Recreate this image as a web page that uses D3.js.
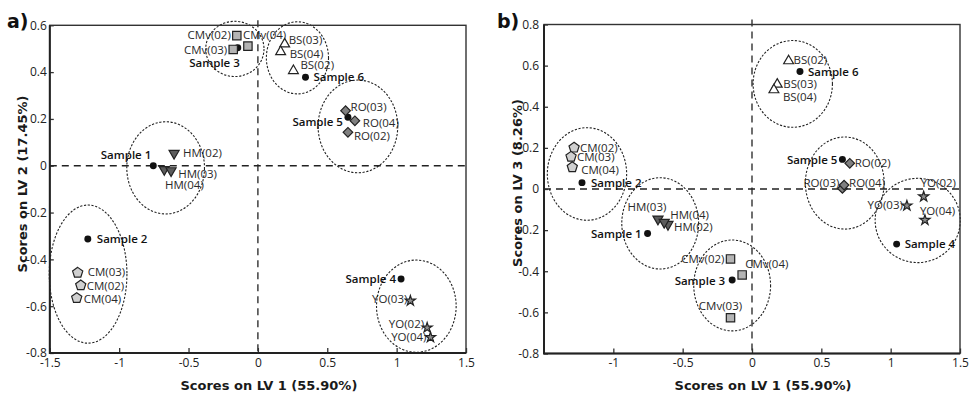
<!DOCTYPE html>
<html>
<head>
<meta charset="utf-8">
<script src="https://cdn.jsdelivr.net/npm/d3@7"></script>
<style>
  body { margin: 0; background: #fff; }
  svg { display: block; }
</style>
</head>
<body>
<svg id="chart" width="970" height="395"></svg>
<script>
// ---- data -------------------------------------------------------------
// Samples and their yearly replicates (02, 03, 04)
const names = [
  "Sample 1", "HM(02)", "HM(03)", "HM(04)",
  "Sample 2", "CM(02)", "CM(03)", "CM(04)",
  "Sample 3", "CMv(02)", "CMv(03)", "CMv(04)",
  "Sample 4", "YO(02)", "YO(03)", "YO(04)",
  "Sample 5", "RO(02)", "RO(03)", "RO(04)",
  "Sample 6", "BS(02)", "BS(03)", "BS(04)"
];
const kinds = [
  "sample", "hm", "hm", "hm",
  "sample", "cm", "cm", "cm",
  "sample", "cmv", "cmv", "cmv",
  "sample", "yo", "yo", "yo",
  "sample", "ro", "ro", "ro",
  "sample", "bs", "bs", "bs"
];

// Panel a: scores on LV 1 vs LV 2
const lv1A = [
  -0.754, -0.604, -0.675, -0.626,
  -1.226, -1.277, -1.299, -1.306,
  -0.145, -0.152, -0.178, -0.072,
   1.032,  1.220,  1.099,  1.244,
   0.649,  0.649,  0.632,  0.699,
   0.343,  0.256,  0.193,  0.164
];
const lv2A = [
   0.000,  0.053, -0.016, -0.021,
  -0.313, -0.511, -0.457, -0.565,
   0.504,  0.556,  0.497,  0.511,
  -0.484, -0.692, -0.577, -0.733,
   0.207,  0.143,  0.235,  0.192,
   0.378,  0.406,  0.520,  0.487
];

// Panel b: scores on LV 1 vs LV 3
const lv1B = [
  -0.753, -0.606, -0.678, -0.633,
  -1.226, -1.283, -1.305, -1.296,
  -0.143, -0.155, -0.155, -0.071,
   1.043,  1.238,  1.117,  1.247,
   0.652,  0.705,  0.652,  0.664,
   0.346,  0.264,  0.182,  0.158
];
const lv3B = [
  -0.216, -0.172, -0.146, -0.162,
   0.031,  0.201,  0.157,  0.106,
  -0.443, -0.340, -0.626, -0.418,
  -0.268, -0.037, -0.081, -0.151,
   0.144,  0.125,  0.003,  0.019,
   0.571,  0.623,  0.509,  0.482
];

// Group regions (Sample 1..6): centre and semi-axes in score units
const groupCxA = [-0.665, -1.224, -0.166, 1.142, 0.721, 0.285];
const groupCyA = [-0.009, -0.463,  0.499, -0.600, 0.168, 0.461];
const groupRxA = [ 0.280,  0.280,  0.210, 0.287, 0.287, 0.224];
const groupRyA = [ 0.197,  0.295,  0.118, 0.197, 0.198, 0.154];

const groupCxB = [-0.662, -1.190, -0.143, 1.195, 0.669, 0.294];
const groupCyB = [-0.167,  0.073, -0.469, -0.153, 0.029, 0.511];
const groupRxB = [ 0.277,  0.286,  0.277, 0.307, 0.284, 0.286];
const groupRyB = [ 0.222,  0.225,  0.221, 0.205, 0.224, 0.211];

// Axis ticks
const lv1TicksA = [-1.5, -1, -0.5, 0, 0.5, 1, 1.5];
const lv1TicksB = [-1, -0.5, 0, 0.5, 1, 1.5];
const lv2Ticks = [0.6, 0.4, 0.2, 0, -0.2, -0.4, -0.6, -0.8];
const lv3Ticks = [0.8, 0.6, 0.4, 0.2, 0, -0.2, -0.4, -0.6, -0.8];

// ---- label placement (anchor, dx, dy in px from the marker) ------------
const labelPosA = [
  ["end", -2, -11], ["start", 9, 0], ["start", 14, 4], ["start", -6, 14],
  ["start", 9, 0], ["start", 6, 0.5], ["start", 10, -1], ["start", 7, 1],
  ["end", 2, 15], ["end", -6, -1], ["end", -6, 0.5], ["start", -5, -11],
  ["end", -5, -0.5], ["end", -3, -3.5], ["end", -3, -1.5], ["end", -4, 0],
  ["end", -5, 4.5], ["start", 6, 3.5], ["start", 5, -4], ["start", 8, 2],
  ["start", 8, 0], ["start", 7, -6], ["start", 4, -4], ["start", 9, 2.5]
];
const labelPosB = [
  ["end", -6, 0], ["start", 6, 2], ["middle", -11, -12], ["start", 6, -7],
  ["start", 9, 0], ["start", 6, 0], ["start", 6, 0], ["start", 9, 3],
  ["end", -7, 0.5], ["end", -6, 0], ["middle", -10, -12], ["start", 3, -11],
  ["start", 8, 0], ["start", -3, -14], ["end", -4, -0.5], ["start", -5, -9],
  ["end", -5, 0.5], ["start", 5, 0], ["end", -3, -5.5], ["start", 5, -2.5],
  ["start", 8, 0.5], ["start", 5, -1], ["start", 6, 0], ["start", 9, 6.5]
];

// ---- marker styles ------------------------------------------------------
const pentagon = {
  draw(ctx, size) {
    const r = Math.sqrt(size / 2.378);
    for (let i = 0; i < 5; i++) {
      const a = -Math.PI / 2 + i * 2 * Math.PI / 5;
      const px = r * Math.cos(a), py = r * Math.sin(a);
      if (i === 0) ctx.moveTo(px, py); else ctx.lineTo(px, py);
    }
    ctx.closePath();
  }
};
const markerStyle = {
  sample: { type: d3.symbolCircle,   size: 38, fill: "#111", rotate: 0 },
  cmv:    { type: d3.symbolSquare,   size: 70, fill: "#b4b4b4", rotate: 0 },
  bs:     { type: d3.symbolTriangle, size: 42, fill: "#ffffff", rotate: 0 },
  hm:     { type: d3.symbolTriangle, size: 44, fill: "#5c5c5c", rotate: 180 },
  ro:     { type: d3.symbolSquare,   size: 46, fill: "#808080", rotate: 45 },
  cm:     { type: pentagon,          size: 68, fill: "#d0d0d0", rotate: 0 },
  yo:     { type: d3.symbolStar,     size: 32, fill: "#8e8e8e", rotate: 0 }
};

const svg = d3.select("#chart");
const tickFont = "'Open Sans', sans-serif";

function drawPanel(cfg) {
  const x = d3.scaleLinear().domain([-1.5, 1.5]).range(cfg.xRange);
  const y = d3.scaleLinear().domain(cfg.yDomain).range(cfg.yRange);
  const g = svg.append("g");
  const [x0, x1] = cfg.xRange;
  const [yb, yt] = cfg.yRange;

  // group regions
  g.append("g").selectAll("ellipse")
    .data(d3.range(cfg.gcx.length))
    .join("ellipse")
    .attr("cx", i => x(cfg.gcx[i]))
    .attr("cy", i => y(cfg.gcy[i]))
    .attr("rx", i => x(cfg.grx[i]) - x(0))
    .attr("ry", i => y(0) - y(cfg.gry[i]))
    .attr("fill", "none")
    .attr("stroke", "#222")
    .attr("stroke-width", 1.1)
    .attr("stroke-dasharray", "2.2,1.6");

  // zero lines
  g.append("line")
    .attr("x1", x(0)).attr("x2", x(0))
    .attr("y1", yt - 5).attr("y2", yb)
    .attr("stroke", "#222").attr("stroke-width", 1.3)
    .attr("stroke-dasharray", "7,5");
  g.append("line")
    .attr("x1", x0).attr("x2", x1)
    .attr("y1", y(0)).attr("y2", y(0))
    .attr("stroke", "#222").attr("stroke-width", 1.3)
    .attr("stroke-dasharray", "7,5");

  // axes
  const xAxis = d3.axisBottom(x).tickValues(cfg.xTicks)
    .tickFormat(d => String(d)).tickSize(-5).tickPadding(5);
  const yAxis = d3.axisLeft(y).tickValues(cfg.yTicks)
    .tickFormat(d => String(d)).tickSize(-4).tickPadding(cfg.yPad);
  const gx = g.append("g").attr("transform", `translate(0,${yb})`).call(xAxis);
  const gy = g.append("g").attr("transform", `translate(${x0},0)`).call(yAxis);
  [gx, gy].forEach(a => {
    a.select(".domain").remove();
    a.selectAll(".tick line").attr("stroke", "#333").attr("stroke-width", 1.3);
    a.selectAll(".tick text")
      .attr("fill", "#222")
      .style("font-family", tickFont)
      .style("font-size", "12px");
  });

  // frame
  g.append("rect")
    .attr("x", x0).attr("y", yt)
    .attr("width", x1 - x0).attr("height", yb - yt)
    .attr("fill", "none").attr("stroke", "#333").attr("stroke-width", 1.4);
  g.append("path")
    .attr("d", `M${x0},${yt}V${yb}H${x1}`)
    .attr("fill", "none").attr("stroke", "#222").attr("stroke-width", 2);

  // markers
  const idx = d3.range(names.length);
  g.append("g").selectAll("path")
    .data(idx)
    .join("path")
    .attr("d", i => d3.symbol(markerStyle[kinds[i]].type, markerStyle[kinds[i]].size)())
    .attr("transform", i =>
      `translate(${x(cfg.xs[i])},${y(cfg.ys[i])}) rotate(${markerStyle[kinds[i]].rotate})`)
    .attr("fill", i => markerStyle[kinds[i]].fill)
    .attr("stroke", "#222")
    .attr("stroke-width", i => kinds[i] === "sample" ? 0 : 1.2)
    .attr("stroke-linejoin", "miter");

  // point labels
  g.append("g").selectAll("text")
    .data(idx)
    .join("text")
    .attr("x", i => x(cfg.xs[i]) + cfg.labels[i][1])
    .attr("y", i => y(cfg.ys[i]) + cfg.labels[i][2])
    .attr("dy", "0.36em")
    .attr("text-anchor", i => cfg.labels[i][0])
    .style("font-family", tickFont)
    .style("font-size", "11.5px")
    .style("font-weight", i => kinds[i] === "sample" ? 600 : 400)
    .attr("fill", i => kinds[i] === "sample" ? "#111" : "#2a2a2a")
    .text(i => names[i]);

  // axis titles
  g.append("text")
    .attr("x", (x0 + x1) / 2 + 11).attr("y", 389.5)
    .attr("text-anchor", "middle")
    .style("font-family", "'DejaVu Sans', sans-serif")
    .style("font-weight", "bold").style("font-size", "13px")
    .attr("fill", "#1a1a1a")
    .text("Scores on LV 1 (55.90%)");
  g.append("text")
    .attr("transform", `translate(${cfg.yTitleX},${cfg.yTitleY}) rotate(-90)`)
    .attr("text-anchor", "middle")
    .style("font-family", "'DejaVu Sans', sans-serif")
    .style("font-weight", "bold").style("font-size", "13px")
    .attr("fill", "#1a1a1a")
    .text(cfg.yTitle);

  // panel letter
  g.append("text")
    .attr("x", cfg.letterX).attr("y", 28)
    .style("font-family", "'DejaVu Sans', sans-serif")
    .style("font-weight", "bold").style("font-size", "19px")
    .attr("fill", "#111")
    .text(cfg.letter);
}

drawPanel({
  letter: "a)", letterX: 7,
  xRange: [49.8, 466], yRange: [353, 25.3], yDomain: [-0.8, 0.6],
  xTicks: lv1TicksA, yTicks: lv2Ticks, yPad: 3,
  xs: lv1A, ys: lv2A, labels: labelPosA,
  gcx: groupCxA, gcy: groupCyA, grx: groupRxA, gry: groupRyA,
  yTitle: "Scores on LV 2 (17.45%)", yTitleX: 27, yTitleY: 184
});
drawPanel({
  letter: "b)", letterX: 497,
  xRange: [544, 960], yRange: [353.5, 24.5], yDomain: [-0.8, 0.8],
  xTicks: lv1TicksB, yTicks: lv3Ticks, yPad: 5,
  xs: lv1B, ys: lv3B, labels: labelPosB,
  gcx: groupCxB, gcy: groupCyB, grx: groupRxB, gry: groupRyB,
  yTitle: "Scores on LV 3 (8.26%)", yTitleX: 522, yTitleY: 183
});
</script>
</body>
</html>
